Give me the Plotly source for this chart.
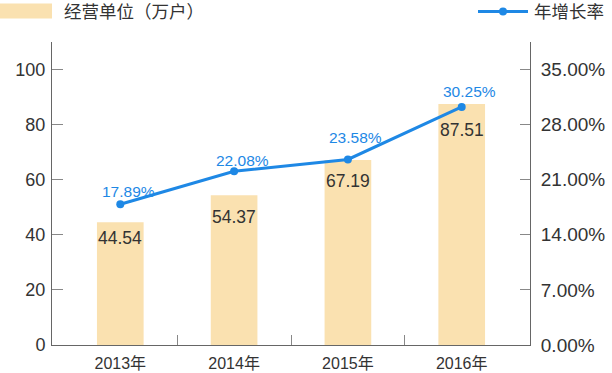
import plotly.graph_objects as go

years = ["2013年", "2014年", "2015年", "2016年"]
units = [44.54, 54.37, 67.19, 87.51]
growth = [17.89, 22.08, 23.58, 30.25]
left_ticks = [0, 20, 40, 60, 80, 100]
right_ticks = [0, 7, 14, 21, 28, 35]

# label placement (pixels) as seen in the reference
bar_label_shift = [-16, -22, -21, -26]
line_label_shift = [13, 11, 22, 15]

W, H = 612, 373
L, R, T, B = 52, 82, 42, 28
PW, PH = W - L - R, H - T - B

def px(x):
    return (x - L) / PW

def py(y):
    return (H - B - y) / PH

FONT = "Liberation Sans, Noto Sans CJK SC, sans-serif"
BAR = "#FAE1B0"
BLUE = "#1E88E5"
TXT = "#333333"
AX = "#666666"

xs = list(range(len(years)))

fig = go.Figure()
fig.add_trace(go.Bar(
    x=xs, y=units, width=0.41, marker=dict(color=BAR, line=dict(width=0)),
    name="经营单位（万户）", showlegend=False, hoverinfo="skip",
))
fig.add_trace(go.Scatter(
    x=xs, y=growth, yaxis="y2", mode="lines+markers",
    line=dict(color=BLUE, width=3), marker=dict(color=BLUE, size=8),
    name="年增长率", showlegend=False, hoverinfo="skip", cliponaxis=False,
))

for i, v in enumerate(units):
    fig.add_annotation(x=xs[i], y=v, xref="x", yref="y", text=f"{v:.2f}",
                       showarrow=False, yanchor="middle", yshift=bar_label_shift[i],
                       font=dict(size=17.5, color=TXT, family=FONT))
for i, v in enumerate(growth):
    fig.add_annotation(x=xs[i], y=v, xref="x", yref="y2", text=f"{v:.2f}%",
                       showarrow=False, yanchor="middle", yshift=line_label_shift[i],
                       xshift=8, font=dict(size=15.5, color=BLUE, family=FONT))

fig.update_layout(
    width=W, height=H, margin=dict(l=L, r=R, t=T, b=B),
    paper_bgcolor="white", plot_bgcolor="white",
    font=dict(family=FONT, color=TXT, size=17),
    xaxis=dict(range=[-0.6, 3.6], tickmode="array", tickvals=xs, ticktext=years,
               ticks="", showgrid=False, zeroline=False, showline=True,
               linecolor=AX, linewidth=1, tickfont=dict(size=16, color=TXT),
               automargin=False, ticklabelstandoff=4,
               minor=dict(tickmode="array", tickvals=[0.5, 1.5, 2.5], ticks="inside",
                          ticklen=10, tickcolor="#888888", showgrid=False)),
    yaxis=dict(range=[0, 110], tickmode="array", tickvals=left_ticks,
               ticks="inside", ticklen=11, tickcolor="#888888", showgrid=False,
               zeroline=False, showline=True, linecolor=AX, linewidth=1,
               tickfont=dict(size=18, color=TXT), ticklabelstandoff=2,
               automargin=False),
    yaxis2=dict(range=[0, 38.5], overlaying="y", side="right", tickmode="array",
                tickvals=right_ticks, ticktext=[f"{v:.2f}%" for v in right_ticks],
                ticks="inside", ticklen=10, tickcolor="#888888", showgrid=False,
                zeroline=False, showline=True, linecolor=AX, linewidth=1,
                tickfont=dict(size=19, color=TXT), ticklabelstandoff=6,
                automargin=False),
    showlegend=False,
)

# legend drawn manually
fig.add_shape(type="rect", xref="paper", yref="paper",
              x0=px(0), x1=px(52), y0=py(18.5), y1=py(3.5),
              fillcolor=BAR, line=dict(width=0))
fig.add_annotation(xref="paper", yref="paper", x=px(62), y=py(12), xanchor="left",
                   yanchor="middle", text="经营单位（万户）", showarrow=False,
                   font=dict(size=17.5, color=TXT, family=FONT))
fig.add_shape(type="line", xref="paper", yref="paper",
              x0=px(478), x1=px(528), y0=py(11.5), y1=py(11.5),
              line=dict(color=BLUE, width=3))
fig.add_shape(type="circle", xref="paper", yref="paper",
              x0=px(499), x1=px(507), y0=py(15.5), y1=py(7.5),
              fillcolor=BLUE, line=dict(width=0))
fig.add_annotation(xref="paper", yref="paper", x=px(532), y=py(12), xanchor="left",
                   yanchor="middle", text="年增长率", showarrow=False,
                   font=dict(size=17.5, color=TXT, family=FONT))

fig.write_html("out.html", config={"displayModeBar": False},
               post_script="document.body.style.margin='0';document.body.style.padding='0';")
